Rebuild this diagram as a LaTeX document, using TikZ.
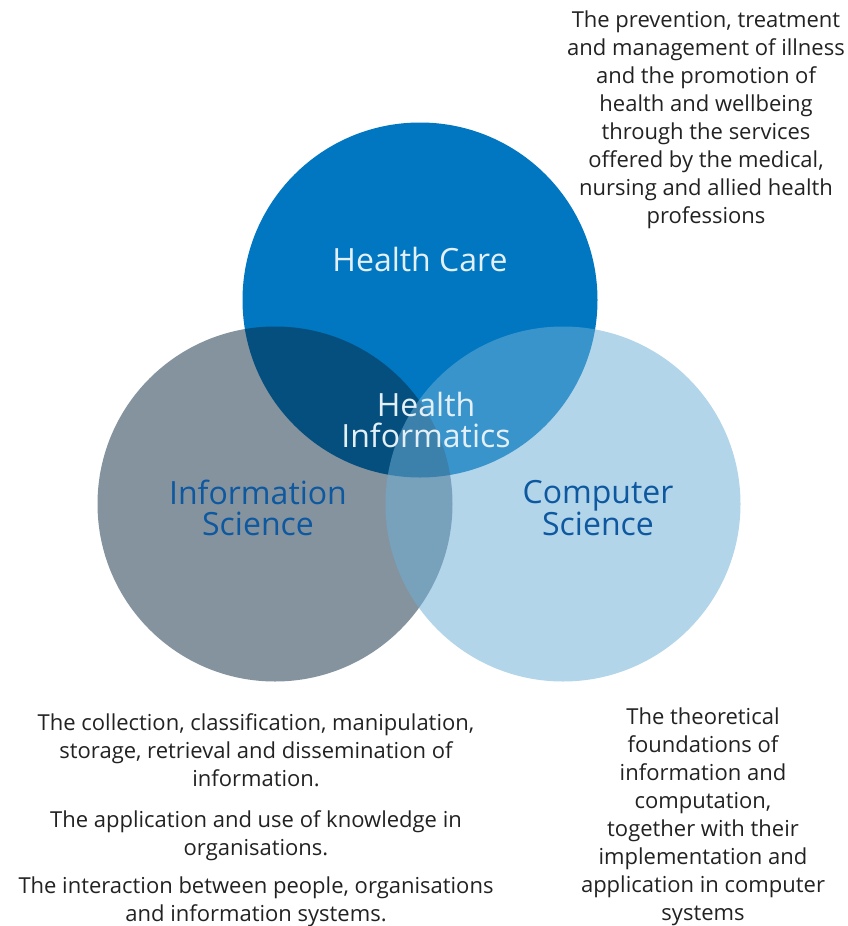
\documentclass[tikz,border=0pt]{standalone}
\usepackage{fontspec}
\setmainfont{Open Sans}
\usepackage{xcolor}
\usepackage{tikz}
\usetikzlibrary{positioning}

\definecolor{hcblue}{RGB}{0,119,192}
\definecolor{isgray}{RGB}{10,40,62}
\definecolor{csblue}{RGB}{110,175,215}
\definecolor{labblue}{RGB}{14,88,160}
\definecolor{labwhite}{RGB}{228,240,248}
\definecolor{bodytext}{RGB}{34,34,34}

\begin{document}
\begin{tikzpicture}[
    x=1pt, y=-1pt,
    venn/.style={circle, minimum size=355pt, inner sep=0pt},
    setlab/.style={align=center, inner sep=0pt,
                   font=\fontsize{32}{31}\selectfont},
    desc/.style={align=center, inner sep=0pt, text=bodytext,
                 font=\fontsize{22}{28}\selectfont}
  ]
  \useasboundingbox (0,0) rectangle (848,926);

  % the three sets
  \node[venn, fill=hcblue] (hc) at (420,300) {};
  \node[venn, fill=isgray, fill opacity=0.5] (is) at (275,504) {};
  \node[venn, fill=csblue, fill opacity=0.525] (cs) at (563,504) {};

  % set names
  \node[setlab, text=labwhite] (hclab) at (420,259) {Health Care};
  \node[setlab, text=labwhite] (hilab) at (426,420) {Health\\Informatics};
  \node[setlab, text=labblue] (islab) at (258,508) {Information\\Science};
  \node[setlab, text=labblue] (cslab) at (598,508) {Computer\\Science};

  % descriptions
  \node[desc] (hcdesc) at (706,120)
    {The prevention, treatment\\and management of illness\\and the promotion of\\
     health and wellbeing\\through the services\\offered by the medical,\\
     nursing and allied health\\professions};
  \node[desc] (isdesc1) at (256,750)
    {The collection, classification, manipulation,\\
     storage, retrieval and dissemination of\\information.};
  \node[desc] (isdesc2) at (256,836)
    {The application and use of knowledge in\\organisations.};
  \node[desc] (isdesc3) at (256,902)
    {The interaction between people, organisations\\and information systems.};
  \node[desc] (csdesc) at (703,817)
    {The theoretical\\foundations of\\information and\\computation,\\
     together with their\\implementation and\\application in computer\\systems};
\end{tikzpicture}
\end{document}
